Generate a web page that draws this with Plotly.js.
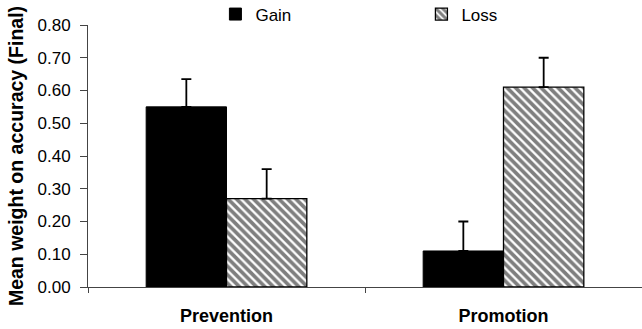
<!DOCTYPE html>
<html>
<head>
<meta charset="utf-8">
<script src="https://cdn.plot.ly/plotly-3.0.1.min.js"></script>
<style>html,body{margin:0;padding:0;background:#fff;}#chart{width:642px;height:329px;}</style>
</head>
<body>
<div id="chart"></div>
<script>
const categories = ["Prevention", "Promotion"];
const gainValues = [0.55, 0.11];
const gainErrors = [0.085, 0.09];
const lossValues = [0.27, 0.61];
const lossErrors = [0.09, 0.09];
const yTickValues = [0, 0.1, 0.2, 0.3, 0.4, 0.5, 0.6, 0.7, 0.8];
const yTickLabels = ["0.00", "0.10", "0.20", "0.30", "0.40", "0.50", "0.60", "0.70", "0.80"];

const errStyle = {type: "data", symmetric: false, color: "#000", thickness: 1.8, width: 5};

const traces = [
  {
    type: "bar", name: "Gain", x: categories, y: gainValues,
    marker: {color: "#000", line: {color: "#000", width: 1}},
    error_y: Object.assign({array: gainErrors, arrayminus: [0, 0]}, errStyle)
  },
  {
    type: "bar", name: "Loss", x: categories, y: lossValues,
    marker: {color: "#fff", line: {color: "#000", width: 1.3},
      pattern: {shape: "\\", size: 6, solidity: 0.62, fgcolor: "#000", bgcolor: "#fff", fillmode: "overlay"}},
    error_y: Object.assign({array: lossErrors, arrayminus: [0, 0]}, errStyle)
  }
];

const layout = {
  width: 642, height: 329,
  margin: {l: 88, r: 0, t: 25, b: 42, autoexpand: false},
  paper_bgcolor: "#fff", plot_bgcolor: "#fff",
  barmode: "group", bargap: 0.42, bargroupgap: 0,
  font: {family: "Liberation Sans, Arial, sans-serif", color: "#000"},
  showlegend: true,
  legend: {
    orientation: "h", x: 0.23, y: 1.04, xanchor: "left", yanchor: "middle",
    entrywidth: 161, entrywidthmode: "pixels",
    font: {size: 17, family: "Liberation Sans, Arial, sans-serif"},
    bgcolor: "rgba(0,0,0,0)", borderwidth: 0, traceorder: "normal"
  },
  xaxis: {
    type: "category", showline: true, linecolor: "#444", linewidth: 1,
    ticks: "outside", tickson: "boundaries", ticklen: 5, tickcolor: "#444",
    showgrid: false, zeroline: false,
    tickfont: {size: 18, family: "Liberation Sans, Arial, sans-serif", weight: "bold"},
    ticklabelstandoff: 12
  },
  yaxis: {
    range: [0, 0.8], tickvals: yTickValues, ticktext: yTickLabels,
    showline: true, linecolor: "#444", linewidth: 1,
    ticks: "outside", ticklen: 7, tickcolor: "#444",
    showgrid: false, zeroline: false,
    tickfont: {size: 17, family: "Liberation Sans, Arial, sans-serif"},
    ticklabelstandoff: 6,
    title: {text: "<b>Mean weight on accuracy (Final)</b>", standoff: 8,
      font: {size: 19.5, family: "Liberation Sans, Arial, sans-serif"}}
  }
};

Plotly.newPlot("chart", traces, layout, {displayModeBar: false, staticPlot: true});
</script>
</body>
</html>
